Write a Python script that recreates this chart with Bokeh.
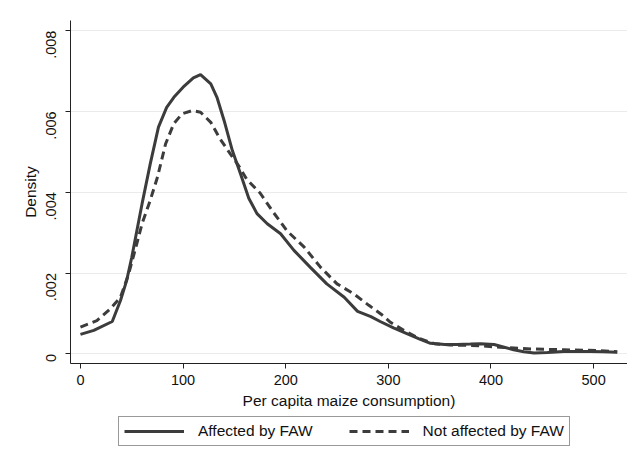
import math
from bokeh.plotting import figure
from bokeh.layouts import column
from bokeh.models import FixedTicker, Legend, LegendItem, Range1d
from bokeh.embed import file_html
from bokeh.resources import INLINE

# ---- data ----
affected_x = [0, 13, 31, 39, 45, 50, 55, 60, 68, 76, 84, 91, 100, 110, 117, 127, 133,
              140, 148, 156, 164, 172, 182, 195, 208, 224, 240, 257, 270, 283, 292,
              305, 318, 330, 341, 355, 367, 380, 390, 403, 412, 422, 432, 442, 455,
              471, 485, 497, 510, 523]
affected_y = [0.00048, 0.00058, 0.00080, 0.00132, 0.00181, 0.00239, 0.00305, 0.00371,
              0.00470, 0.00561, 0.00610, 0.00635, 0.00660, 0.00683, 0.00691, 0.00668,
              0.00635, 0.00577, 0.00503, 0.00445, 0.00385, 0.00347, 0.00322, 0.00297,
              0.00256, 0.00214, 0.00173, 0.00140, 0.00105, 0.00092, 0.00080, 0.00064,
              0.00050, 0.00037, 0.00026, 0.00023, 0.00023, 0.00024, 0.00025, 0.00023,
              0.00017, 0.00010, 0.00005, 0.00002, 0.00003, 0.00006, 0.00006, 0.00006,
              0.00005, 0.00004]

notaff_x = [0, 16, 29, 39, 47, 54, 60, 68, 75, 83, 91, 99, 109, 117, 127, 136, 146,
            154, 162, 175, 188, 201, 218, 234, 250, 266, 281, 293, 302, 315, 330, 345,
            360, 375, 390, 409, 439, 471, 503, 523]
notaff_y = [0.00066, 0.00082, 0.00111, 0.00140, 0.00198, 0.00264, 0.00322, 0.00380,
            0.00437, 0.00520, 0.00570, 0.00594, 0.00602, 0.00598, 0.00573, 0.00532,
            0.00495, 0.00466, 0.00432, 0.00398, 0.00350, 0.00305, 0.00264, 0.00214,
            0.00173, 0.00149, 0.00120, 0.00098, 0.00078, 0.00058, 0.00038, 0.00025,
            0.00022, 0.00021, 0.00020, 0.00016, 0.00012, 0.00010, 0.00008, 0.00005]

x_ticks = [0, 100, 200, 300, 400, 500]
y_ticks = [0, 0.002, 0.004, 0.006, 0.008]
y_tick_labels = ["0", ".002", ".004", ".006", ".008"]
series_names = ["Affected by FAW", "Not affected by FAW"]

FONT = "Liberation Sans"
LINE_COLOR = "#3c3c3c"
DASH = "8 5"

# ---- main plot ----
p = figure(width=627, height=415, output_backend="svg", toolbar_location=None,
           x_range=Range1d(-9.7, 533), y_range=Range1d(-0.00024, 0.00825),
           min_border_left=70, min_border_right=0, min_border_top=20,
           min_border_bottom=52)
p.background_fill_color = "white"
p.border_fill_color = "white"
p.outline_line_color = None

r1 = p.line(affected_x, affected_y, line_color=LINE_COLOR, line_width=3)
r2 = p.line(notaff_x, notaff_y, line_color=LINE_COLOR, line_width=3, line_dash=DASH)

p.xaxis.ticker = FixedTicker(ticks=x_ticks)
p.yaxis.ticker = FixedTicker(ticks=y_ticks)
p.yaxis.major_label_overrides = {t: l for t, l in zip(y_ticks, y_tick_labels)}
p.yaxis.major_label_orientation = math.pi / 2
p.xaxis.axis_label = "Per capita maize consumption)"
p.yaxis.axis_label = "Density"
for ax in (p.xaxis, p.yaxis):
    ax.axis_line_color = "#222222"
    ax.axis_line_width = 1
    ax.major_tick_line_color = "#222222"
    ax.major_tick_in = 0
    ax.major_tick_out = 5
    ax.minor_tick_line_color = None
    ax.major_label_text_font = FONT
    ax.major_label_text_font_size = "14.5px"
    ax.major_label_text_color = "#111111"
    ax.axis_label_text_font = FONT
    ax.axis_label_text_font_size = "15.5px"
    ax.axis_label_text_font_style = "normal"
    ax.axis_label_text_color = "#111111"
p.xaxis.major_label_standoff = 6
p.xaxis.axis_label_standoff = 4
p.yaxis.major_label_standoff = 14
p.yaxis.axis_label_standoff = 0

p.xgrid.grid_line_color = None
p.ygrid.grid_line_color = "#ebebeb"
p.ygrid.grid_line_width = 1

# ---- legend strip below the main plot (keys reuse the series, kept out of view) ----
lg = figure(width=627, height=40, output_backend="svg", toolbar_location=None,
            x_range=Range1d(0, 1), y_range=Range1d(1, 2),
            min_border_left=70, min_border_right=0, min_border_top=0,
            min_border_bottom=0)
lg.axis.visible = False
lg.grid.visible = False
lg.outline_line_color = None
lg.background_fill_color = "white"
lg.border_fill_color = "white"
k1 = lg.line(affected_x, affected_y, line_color=LINE_COLOR, line_width=3)
k2 = lg.line(notaff_x, notaff_y, line_color=LINE_COLOR, line_width=3, line_dash=DASH)

legend = Legend(items=[LegendItem(label=series_names[0], renderers=[k1]),
                       LegendItem(label=series_names[1], renderers=[k2])],
                orientation="horizontal", location=(48, 9))
legend.label_text_font = FONT
legend.label_text_font_size = "15.5px"
legend.label_text_color = "#111111"
legend.border_line_color = "#333333"
legend.border_line_width = 1
legend.glyph_width = 60
legend.glyph_height = 14
legend.label_height = 14
legend.label_standoff = 14
legend.spacing = 36
legend.padding = 5
legend.margin = 0
legend.background_fill_alpha = 0
lg.add_layout(legend, "center")

layout = column(p, lg, spacing=0)
open("out.html", "w").write(file_html(layout, INLINE))
